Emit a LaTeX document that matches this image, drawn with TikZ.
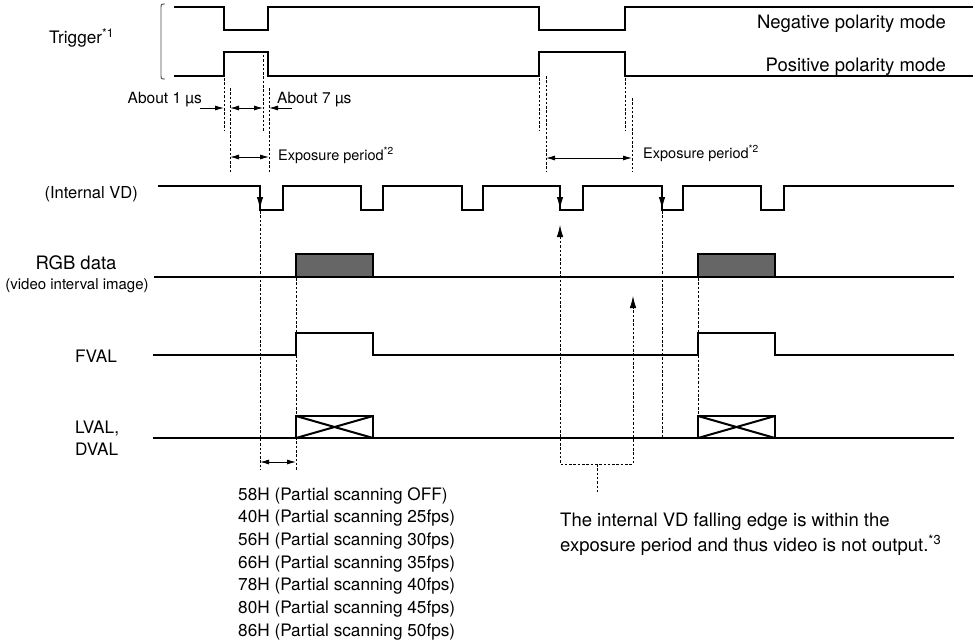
\documentclass[tikz,border=0pt]{standalone}
\usepackage{fontspec}
\setmainfont{TeX Gyre Heros}
\usetikzlibrary{arrows.meta}
\begin{document}
\begin{tikzpicture}[x=1pt,y=-1pt,
  sig/.style={line width=2.7pt, line join=miter, line cap=rect},
  dsh/.style={line width=0.8pt, dash pattern=on 2.5pt off 1.8pt},
  thinarr/.style={line width=0.9pt},
  tipA/.style={-{Latex[length=9pt,width=5pt]}},
  tipAA/.style={{Latex[length=9pt,width=5pt]}-{Latex[length=9pt,width=5pt]}},
  tipB/.style={-{Latex[length=12pt,width=6.5pt]}},
  tipBB/.style={{Latex[length=12pt,width=6.5pt]}-{Latex[length=12pt,width=6.5pt]}},
  big/.style={font=\fontsize{18.5}{25}\selectfont, inner sep=0pt},
  mid/.style={font=\fontsize{17.2}{22.7}\selectfont, inner sep=0pt},
  sml/.style={font=\fontsize{15.5}{18}\selectfont, inner sep=0pt},
  expo/.style={font=\fontsize{14.5}{17}\selectfont, inner sep=0pt},
  gbox/.style={sig, fill=black!60},
]
\useasboundingbox (0,0) rectangle (977,642);

% ---------- labels ----------
\node[mid, anchor=base west] (trig) at (49,44) {Trigger\textsuperscript{*1}};
\node[big, anchor=base east] (neg) at (946,28.5) {Negative polarity mode};
\node[big, anchor=base east] (pos) at (946,71.5) {Positive polarity mode};
\node[sml, anchor=base east] (ab1) at (202,103) {About 1 µs};
\node[sml, anchor=base west] (ab7) at (277,103) {About 7 µs};
\node[expo, anchor=base west] (exp1) at (278,160) {Exposure period\textsuperscript{*2}};
\node[expo, anchor=base west] (exp2) at (643,158) {Exposure period\textsuperscript{*2}};
\node[font=\fontsize{16.5}{20}\selectfont, inner sep=0pt, anchor=base east] (ivd) at (138,198) {(Internal VD)};
\node[big, anchor=base] (rgb) at (76,269) {RGB data};
\node[font=\fontsize{15}{18}\selectfont, inner sep=0pt, anchor=base] (vii) at (77,289) {(video interval image)};
\node[mid, anchor=base west] (fval) at (75,362) {FVAL};
\node[mid, anchor=base west] (lval) at (75,433) {LVAL,};
\node[mid, anchor=base west] (dval) at (75,455) {DVAL};
\node[mid, anchor=base west] (l1) at (238,500.0) {58H (Partial scanning OFF)};
\node[mid, anchor=base west] (l2) at (238,522.7) {40H (Partial scanning 25fps)};
\node[mid, anchor=base west] (l3) at (238,545.4) {56H (Partial scanning 30fps)};
\node[mid, anchor=base west] (l4) at (238,568.1) {66H (Partial scanning 35fps)};
\node[mid, anchor=base west] (l5) at (238,590.8) {78H (Partial scanning 40fps)};
\node[mid, anchor=base west] (l6) at (238,613.5) {80H (Partial scanning 45fps)};
\node[mid, anchor=base west] (l7) at (238,636.2) {86H (Partial scanning 50fps)};
\node[big, anchor=base west] (note1) at (560,526) {The internal VD falling edge is within the};
\node[big, anchor=base west] (note2) at (560,551) {exposure period and thus video is not output.\textsuperscript{*3}};

% ---------- bracket ----------
\draw[line width=0.9pt, black!70] (165,4) .. controls (161,4) .. (161,9) -- (161,74) .. controls (161,79) .. (165,79);

% ---------- trigger waveforms ----------
\draw[sig] (175,7) -| (224,30) -| (268,7) -| (539,30) -| (625,7) -- (972,7);
\draw[sig] (175,76) -| (224,52) -| (268,76) -| (539,52) -| (625,76) -- (972,76);

% ---------- internal VD ----------
\draw[sig] (159,186) -| (260,210) -| (283,186) -| (361,210) -| (383,186) -| (462,210) -| (483,186)
  -| (560,210) -| (583,186) -| (662,210) -| (683,186) -| (761,210) -| (784,186) -- (953,186);
\coordinate (vdA0) at (260,190); \coordinate (vdA) at (260,209);
\coordinate (vdB0) at (560,190); \coordinate (vdB) at (560,209);
\coordinate (vdC0) at (662,190); \coordinate (vdC) at (662,209);
\draw[thinarr, tipB] (vdA0) -- (vdA);
\draw[thinarr, tipB] (vdB0) -- (vdB);
\draw[thinarr, tipB] (vdC0) -- (vdC);

% ---------- RGB data ----------
\draw[sig] (155,277) -- (953,277);
\draw[gbox] (296,277) rectangle (373,254);
\draw[gbox] (698,277) rectangle (775,254);

% ---------- FVAL ----------
\draw[sig] (154,355) -| (296,333) -| (373,355) -| (698,333) -| (775,355) -- (953,355);

% ---------- LVAL / DVAL ----------
\draw[sig] (154,438) -- (953,438);
\draw[sig] (296,416) rectangle (373,438);
\draw[line width=2pt] (296,416) -- (373,438) (296,438) -- (373,416);
\draw[sig] (698,416) rectangle (775,438);
\draw[line width=2pt] (698,416) -- (775,438) (698,438) -- (775,416);

% ---------- dashed guides ----------
\draw[dsh] (224,78) -- (224,131);
\draw[dsh] (230,88) -- (230,172);
\draw[dsh] (263,55) -- (263,131);
\draw[dsh] (269,88) -- (269,172);
\draw[dsh] (539,78) -- (539,131);
\draw[dsh] (546,76) -- (546,172);
\draw[dsh] (625,78) -- (625,131);
\draw[dsh] (632,98) -- (632,172);
\draw[dsh] (260,211) -- (260,470);
\draw[dsh] (296,278) -- (296,470);
\draw[dsh] (662,211) -- (662,437);
\draw[dsh] (698,278) -- (698,416);

% ---------- timing arrows ----------
\coordinate (a1s) at (200,108); \coordinate (a1e) at (224,108);
\coordinate (a2s) at (230,108); \coordinate (a2e) at (263,108);
\coordinate (a3s) at (292,108); \coordinate (a3e) at (269,108);
\draw[thinarr, tipA] (a1s) -- (a1e);
\draw[thinarr, tipAA] (a2s) -- (a2e);
\draw[thinarr, tipA] (a3s) -- (a3e);
\coordinate (e1s) at (230,157); \coordinate (e1e) at (269,157);
\draw[thinarr, tipAA] (e1s) -- (e1e);
\coordinate (e2s) at (546,158); \coordinate (e2e) at (632,158);
\draw[thinarr, tipAA] (e2s) -- (e2e);
\coordinate (hs) at (260,462); \coordinate (he) at (296,462);
\draw[thinarr, tipAA] (hs) -- (he);

% ---------- note bracket ----------
\coordinate (upA) at (560,225);
\coordinate (upB) at (633,296);
\coordinate (brL) at (560,464);
\coordinate (brR) at (633,464);
\coordinate (brM) at (597,464);
\coordinate (brT) at (597,493);
\draw[dsh, tipBB] (upA) -- (brL) -- (brR) -- (upB);
\draw[dsh] (brM) -- (brT);
\end{tikzpicture}
\end{document}
